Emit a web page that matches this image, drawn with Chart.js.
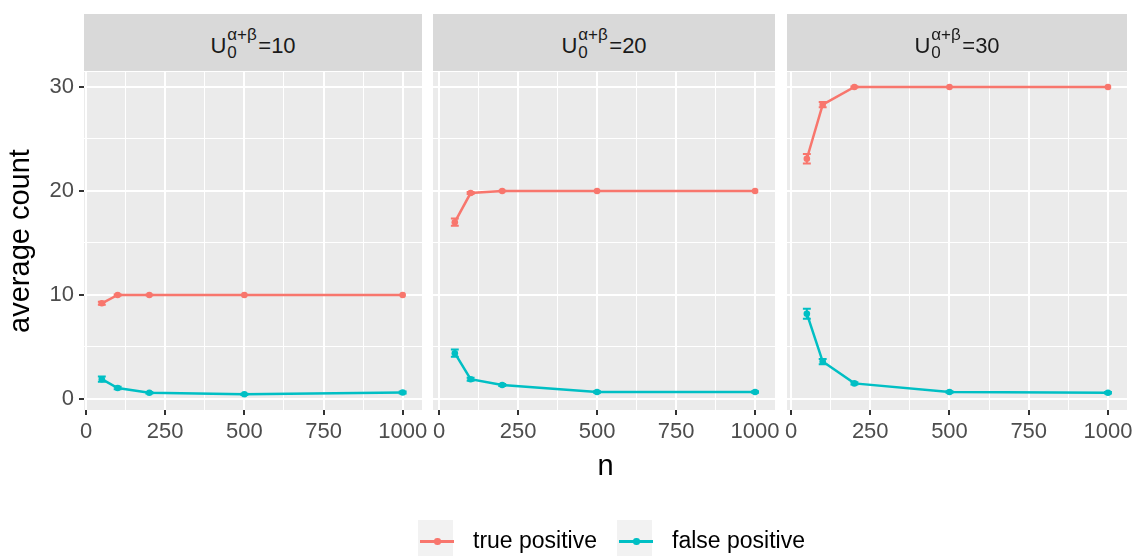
<!DOCTYPE html>
<html>
<head>
<meta charset="utf-8">
<script src="https://cdn.jsdelivr.net/npm/chart.js@4.4.0/dist/chart.umd.min.js"></script>
<style>
body { margin: 0; background: #fff; }
#wrap { position: relative; width: 1136px; height: 556px; overflow: hidden; font-family: "Liberation Sans", Arial, sans-serif; }
#wrap canvas { position: absolute; left: 0; top: 0; }
.strip { position: absolute; top: 14px; height: 57px; background: #D9D9D9; text-align: center; color: #1A1A1A; font-size: 22px; line-height: 57px; }
.lab { position: relative; top: 3px; }
.ss { display: inline-block; position: relative; width: 32px; height: 0; }
.sp, .sb { position: absolute; left: 1px; font-size: 17px; line-height: 1; white-space: nowrap; }
.sp { bottom: 10px; }
.sb { bottom: -7.5px; }
.xtitle { position: absolute; left: 84px; width: 1043px; top: 451px; text-align: center; font-size: 29px; line-height: 1; color: #000; }
.key { position: absolute; top: 520px; width: 35px; height: 40px; background: #F2F2F2; }
.kline { position: absolute; top: 540px; width: 34px; height: 2.5px; }
.kdot { position: absolute; top: 538px; width: 6.5px; height: 6.5px; border-radius: 50%; }
.ltext { position: absolute; top: 529px; font-size: 23px; line-height: 1; color: #000; white-space: nowrap; }
</style>
</head>
<body>
<div id="wrap">
  <canvas id="c0" width="1136" height="556"></canvas>
  <canvas id="c1" width="1136" height="556"></canvas>
  <canvas id="c2" width="1136" height="556"></canvas>
</div>
<script>
// x positions (sample size n) and facet values
const nValues = [50, 100, 200, 500, 1000];
const facetValues = ['10', '20', '30'];
const seriesNames = ['true positive', 'false positive'];

// U0 = 10
const tp10 = [9.2, 10.0, 10.0, 10.0, 10.0];
const tp10Err = [0.15, 0.05, 0.02, 0.0, 0.0];
const fp10 = [1.9, 1.05, 0.6, 0.45, 0.62];
const fp10Err = [0.25, 0.12, 0.08, 0.06, 0.1];
// U0 = 20
const tp20 = [17.0, 19.8, 20.0, 20.0, 20.0];
const tp20Err = [0.35, 0.1, 0.03, 0.0, 0.0];
const fp20 = [4.4, 1.9, 1.35, 0.67, 0.67];
const fp20Err = [0.35, 0.15, 0.1, 0.08, 0.08];
// U0 = 30
const tp30 = [23.1, 28.3, 30.0, 30.0, 30.0];
const tp30Err = [0.45, 0.25, 0.05, 0.0, 0.0];
const fp30 = [8.2, 3.6, 1.5, 0.67, 0.6];
const fp30Err = [0.48, 0.25, 0.1, 0.07, 0.07];

const RED = '#F8766D';
const TEAL = '#00BFC4';
const FONT = '"Liberation Sans", Arial, sans-serif';
Chart.defaults.font.family = FONT;

// panel geometry (pixels) and axis ranges
const panels = [
  {left: 84, right: 422, xmin: -6.3, xmax: 1061},
  {left: 433, right: 775, xmin: -19, xmax: 1063},
  {left: 787, right: 1127, xmin: -12.6, xmax: 1060}
];
const PANEL_TOP = 72, PANEL_BOTTOM = 410;
const YMIN = -1.06, YMAX = 31.44;

// gray panel background
const panelBg = {
  id: 'panelBg',
  beforeDraw(chart) {
    const {ctx, chartArea: a} = chart;
    ctx.save();
    ctx.fillStyle = '#EBEBEB';
    ctx.fillRect(a.left, a.top, a.width, a.height);
    ctx.restore();
  }
};

// error bars from dataset.errors
const errorBars = {
  id: 'errorBars',
  afterDatasetsDraw(chart) {
    const {ctx, scales: {x, y}} = chart;
    chart.data.datasets.forEach(ds => {
      ctx.save();
      ctx.strokeStyle = ds.borderColor;
      ctx.lineWidth = 2;
      ds.data.forEach((pt, i) => {
        const e = ds.errors[i];
        if (!e) return;
        const px = x.getPixelForValue(pt.x);
        const l = x.getPixelForValue(pt.x - 12.5), r = x.getPixelForValue(pt.x + 12.5);
        const t = y.getPixelForValue(pt.y + e), b = y.getPixelForValue(pt.y - e);
        ctx.beginPath();
        ctx.moveTo(px, t); ctx.lineTo(px, b);
        ctx.moveTo(l, t); ctx.lineTo(r, t);
        ctx.moveTo(l, b); ctx.lineTo(r, b);
        ctx.stroke();
      });
      ctx.restore();
    });
  }
};

function toPts(vals) {
  return nValues.map((n, i) => ({x: n, y: vals[i]}));
}

function series(name, vals, errs, color) {
  return {
    label: name, data: toPts(vals), errors: errs,
    borderColor: color, backgroundColor: color,
    borderWidth: 2.5, pointRadius: 3.3, pointBorderWidth: 0, tension: 0
  };
}

function makePanel(i, tp, tpErr, fp, fpErr) {
  const p = panels[i];
  const first = i === 0;
  new Chart(document.getElementById('c' + i), {
    type: 'line',
    data: {datasets: [
      series(seriesNames[0], tp, tpErr, RED),
      series(seriesNames[1], fp, fpErr, TEAL)
    ]},
    options: {
      responsive: false, animation: false, events: [],
      layout: {padding: {left: first ? 0 : p.left, right: 1136 - p.right, top: PANEL_TOP, bottom: 556 - PANEL_BOTTOM - 40}},
      plugins: {legend: {display: false}, tooltip: {enabled: false}},
      scales: {
        x: {
          type: 'linear', min: p.xmin, max: p.xmax,
          border: {display: false},
          grid: {
            color: '#FFFFFF',
            lineWidth: c => (c.tick && c.tick.value % 250 === 0) ? 2 : 1,
            tickColor: c => (c.tick && c.tick.value % 250 === 0) ? '#333333' : 'rgba(0,0,0,0)',
            tickLength: 5, tickWidth: 2
          },
          ticks: {
            stepSize: 125, includeBounds: false, autoSkip: false, maxRotation: 0, minRotation: 0,
            padding: 4, color: '#4D4D4D', font: {size: 22},
            callback: v => v % 250 === 0 ? String(v) : ''
          },
          afterFit: s => { s.height = 40; s.paddingLeft = 0; s.paddingRight = 0; }
        },
        y: {
          min: YMIN, max: YMAX,
          border: {display: false},
          grid: {
            color: '#FFFFFF',
            lineWidth: c => (c.tick && c.tick.value % 10 === 0) ? 2 : 1,
            tickColor: c => (c.tick && c.tick.value % 10 === 0) ? '#333333' : 'rgba(0,0,0,0)',
            tickLength: 5, tickWidth: 2, drawTicks: first
          },
          ticks: {
            display: first, stepSize: 5, includeBounds: false,
            padding: 5, color: '#4D4D4D', font: {size: 22},
            callback: v => v % 10 === 0 ? String(v) : ''
          },
          title: {display: first, text: 'average count', color: '#000000', font: {size: 29}, padding: {top: 4, bottom: 0}},
          afterFit: s => { s.width = first ? 84 : 0; s.paddingTop = 0; s.paddingBottom = 0; }
        }
      }
    },
    plugins: [panelBg, errorBars]
  });
}

makePanel(0, tp10, tp10Err, fp10, fp10Err);
makePanel(1, tp20, tp20Err, fp20, fp20Err);
makePanel(2, tp30, tp30Err, fp30, fp30Err);

// facet strips
const wrap = document.getElementById('wrap');
panels.forEach((p, i) => {
  const s = document.createElement('div');
  s.className = 'strip';
  s.style.left = p.left + 'px';
  s.style.width = (p.right - p.left) + 'px';
  s.innerHTML = '<span class="lab">U<span class="ss"><span class="sp">α+β</span><span class="sb">0</span></span>=' + facetValues[i] + '</span>';
  wrap.appendChild(s);
});

// x axis title
const xt = document.createElement('div');
xt.className = 'xtitle';
xt.textContent = 'n';
wrap.appendChild(xt);

// legend
const legendItems = [
  {name: seriesNames[0], color: RED, key: 418, text: 473},
  {name: seriesNames[1], color: TEAL, key: 617, text: 672}
];
legendItems.forEach(it => {
  const k = document.createElement('div');
  k.className = 'key'; k.style.left = it.key + 'px';
  wrap.appendChild(k);
  const ln = document.createElement('div');
  ln.className = 'kline'; ln.style.left = (it.key + 2) + 'px'; ln.style.background = it.color;
  wrap.appendChild(ln);
  const d = document.createElement('div');
  d.className = 'kdot'; d.style.left = (it.key + 16) + 'px'; d.style.background = it.color;
  wrap.appendChild(d);
  const t = document.createElement('div');
  t.className = 'ltext'; t.style.left = it.text + 'px'; t.textContent = it.name;
  wrap.appendChild(t);
});
</script>
</body>
</html>
